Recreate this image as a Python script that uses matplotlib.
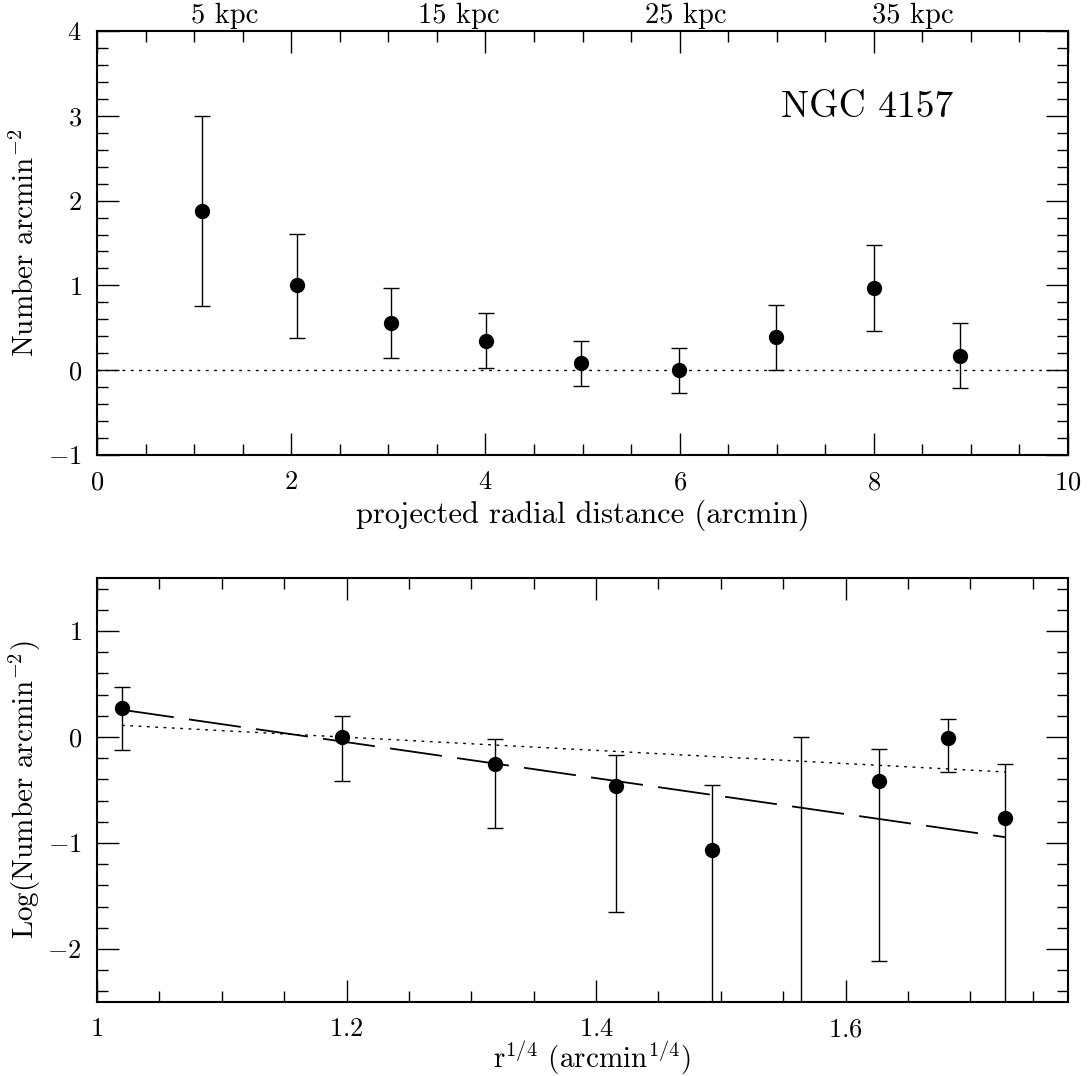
import numpy as np
import matplotlib
matplotlib.use('Agg')
import matplotlib.pyplot as plt
from matplotlib.ticker import MultipleLocator

plt.rcParams['font.family'] = 'serif'
plt.rcParams['font.serif'] = ['cmr10', 'DejaVu Serif']
plt.rcParams['mathtext.fontset'] = 'cm'
plt.rcParams['axes.formatter.use_mathtext'] = True
plt.rcParams['axes.unicode_minus'] = True

# ---------------- top panel data (surface density vs radius) ----------------
r_arcmin = [1.08, 2.06, 3.03, 4.01, 4.98, 5.99, 6.99, 8.00, 8.89]
density = [1.873, 1.000, 0.554, 0.350, 0.086, 0.000, 0.388, 0.973, 0.173]
dens_lo = [0.754, 0.385, 0.142, 0.024, -0.184, -0.263, 0.008, 0.467, -0.208]
dens_hi = [3.000, 1.606, 0.966, 0.672, 0.349, 0.259, 0.765, 1.482, 0.557]

kpc_labels = ['5 kpc', '15 kpc', '25 kpc', '35 kpc']
kpc_label_x = [1.31, 3.73, 6.06, 8.40]

# ---------------- bottom panel data (log density vs r^1/4) ----------------
r_quarter = [1.020, 1.1965, 1.3187, 1.4158, 1.4933, 1.5646, 1.6268, 1.6823, 1.7279]
log_dens = [0.273, 0.000, -0.254, -0.458, -1.064, np.nan, -0.411, -0.009, -0.760]
log_lo = [-0.122, -0.411, -0.854, -1.648, -3.0, -3.0, -2.113, -0.333, -3.0]
log_hi = [0.471, 0.201, -0.016, -0.173, -0.455, 0.000, -0.113, 0.166, -0.254]

fit_x = [1.020, 1.728]
fit_dashed = [0.257, -0.945]
fit_dotted = [0.110, -0.330]

W, H = 1089, 1076
fig = plt.figure(figsize=(W / 100, H / 100), dpi=100)

ax_left = 97 / W
ax_width = 971 / W
ax_h = 424 / H
ax1 = fig.add_axes([ax_left, 1 - 455 / H, ax_width, ax_h])
ax2 = fig.add_axes([ax_left, 1 - 1002 / H, ax_width, ax_h])

def style(ax):
    for s in ax.spines.values():
        s.set_linewidth(1.5)
    ax.tick_params(which='both', direction='in', top=True, right=True,
                   labelsize=19, pad=11, width=1.0)
    ax.tick_params(which='major', length=16)
    ax.tick_params(which='minor', length=8)

def draw_points(ax, x, y, lo, hi):
    x = np.asarray(x, float)
    lo = np.asarray(lo, float)
    hi = np.asarray(hi, float)
    ax.errorbar(x, hi, yerr=[hi - lo, np.zeros_like(hi)], fmt='none',
                ecolor='black', elinewidth=1.0, capsize=5.5, capthick=1.0,
                zorder=2)
    ax.plot(x, y, 'o', color='black', markersize=10, zorder=3)

# ---------- top panel ----------
style(ax1)
ax1.set_xlim(0, 10)
ax1.set_ylim(-1, 4)
ax1.xaxis.set_major_locator(MultipleLocator(2))
ax1.xaxis.set_minor_locator(MultipleLocator(0.5))
ax1.yaxis.set_major_locator(MultipleLocator(1))
ax1.yaxis.set_minor_locator(MultipleLocator(0.2))
ax1.axhline(0, color='black', lw=1.0, ls=(0, (2, 4)), zorder=1)
draw_points(ax1, r_arcmin, density, dens_lo, dens_hi)
ax1.text(7.93, 3.10, 'NGC 4157', fontsize=27, ha='center', va='center')
for lab, xp in zip(kpc_labels, kpc_label_x):
    ax1.text(xp, 1.036, lab, transform=ax1.get_xaxis_transform(),
             fontsize=20.5, ha='center', va='center')
ax1.set_xlabel('projected radial distance (arcmin)', fontsize=22, va='center')
ax1.xaxis.set_label_coords(0.5, -0.143)
ax1.set_ylabel('Number arcmin$^{-2}$', fontsize=21, va='center')
ax1.yaxis.set_label_coords(-0.074, 0.5)

# ---------- bottom panel ----------
style(ax2)
ax2.set_xlim(1, 10 ** 0.25)
ax2.set_ylim(-2.5, 1.5)
ax2.xaxis.set_major_locator(MultipleLocator(0.2))
ax2.xaxis.set_minor_locator(MultipleLocator(0.05))
ax2.yaxis.set_major_locator(MultipleLocator(1))
ax2.yaxis.set_minor_locator(MultipleLocator(0.2))
ax2.xaxis.set_major_formatter(matplotlib.ticker.FuncFormatter(
    lambda v, p: '$\\mathdefault{%g}$' % round(v, 3)))
ax2.plot(fit_x, fit_dashed, color='black', lw=1.3, ls=(0, (29, 8.5)), zorder=1)
ax2.plot(fit_x, fit_dotted, color='black', lw=1.0, ls=(0, (2, 4)), zorder=1)
draw_points(ax2, r_quarter, log_dens, log_lo, log_hi)
ax2.set_xlabel('r$^{1/4}$ (arcmin$^{1/4}$)', fontsize=21, va='center')
ax2.xaxis.set_label_coords(0.51, -0.132)
ax2.set_ylabel('Log(Number arcmin$^{-2}$)', fontsize=21, va='center')
ax2.yaxis.set_label_coords(-0.074, 0.5)

fig.savefig('out.png', dpi=100)
